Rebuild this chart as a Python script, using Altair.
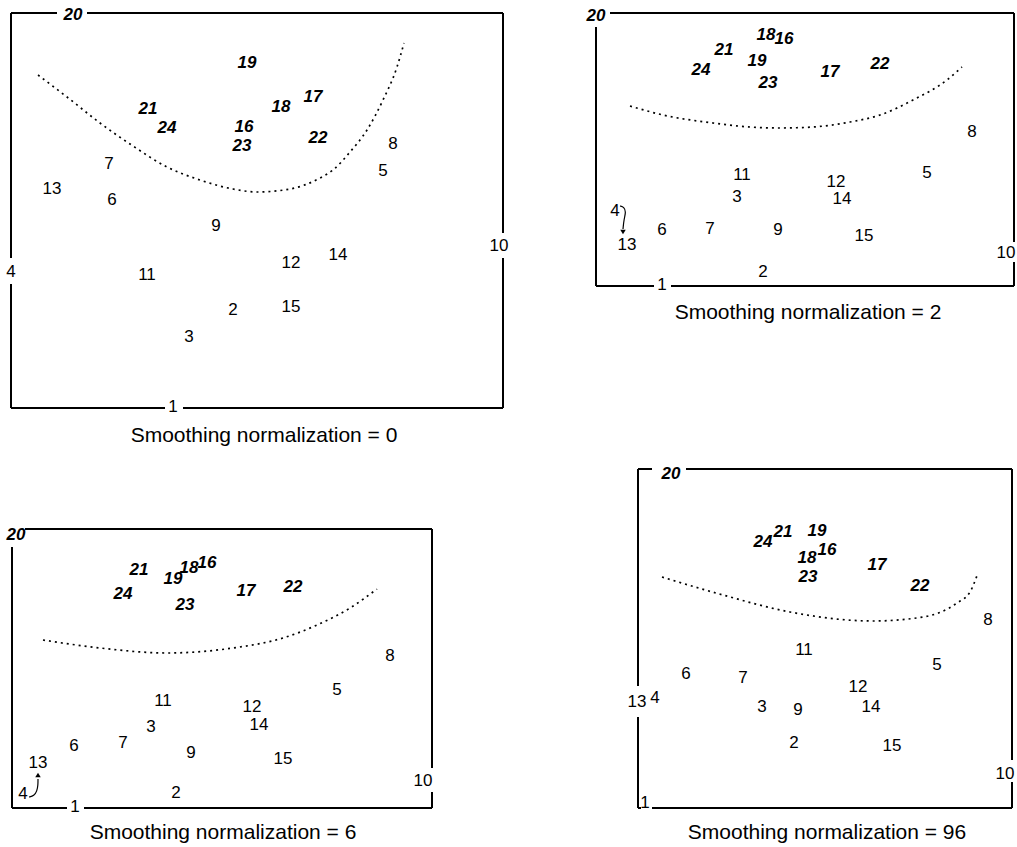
import altair as alt
import pandas as pd

W, H = 1017, 847
FONT = "Liberation Sans"

# ---------- point labels per panel (pixel units) ----------
p0_lab = ["20", "19", "21", "24", "16", "23", "18", "17", "22", "8", "5", "7", "13", "6", "9",
          "10", "14", "12", "4", "11", "2", "15", "3", "1"]
p0_x = [73, 247, 148, 167, 244, 242, 281, 313, 318, 393, 383, 109, 52, 112, 216,
        499, 338, 291, 11, 147, 233, 291, 189, 173]
p0_y = [15, 63, 109, 128, 127, 146, 107, 97, 138, 144, 171, 164, 189, 200, 226,
        246, 255, 263, 272, 275, 310, 307, 337, 407]

p1_lab = ["20", "18", "16", "21", "19", "24", "23", "17", "22", "8", "11", "5", "12", "3", "14",
          "4", "6", "7", "9", "13", "15", "10", "2", "1"]
p1_x = [596, 766, 784, 724, 757, 701, 768, 830, 880, 972, 742, 927, 836, 737, 842,
        615, 662, 710, 778, 627, 864, 1006, 763, 662]
p1_y = [16, 35, 39, 50, 61, 70, 83, 72, 64, 132, 175, 173, 182, 197, 199,
        211, 230, 229, 230, 245, 236, 253, 272, 285]

p2_lab = ["20", "16", "18", "21", "19", "22", "17", "24", "23", "8", "5", "11", "12", "3", "14",
          "6", "7", "9", "15", "13", "10", "4", "2", "1"]
p2_x = [16, 207, 189, 139, 173, 293, 246, 123, 185, 390, 337, 163, 252, 151, 259,
        74, 123, 191, 283, 38, 423, 23, 176, 75]
p2_y = [535, 563, 568, 570, 579, 587, 591, 594, 605, 656, 690, 701, 707, 727, 725,
        746, 743, 753, 759, 763, 781, 794, 793, 807]

p3_lab = ["20", "21", "19", "24", "16", "18", "23", "17", "22", "8", "11", "5", "6", "7", "12",
          "4", "13", "3", "9", "14", "2", "15", "10", "1"]
p3_x = [671, 783, 817, 763, 827, 807, 808, 877, 920, 988, 804, 937, 686, 743, 858,
        655, 637, 762, 798, 871, 794, 892, 1005, 645]
p3_y = [474, 532, 531, 542, 550, 558, 577, 565, 586, 620, 650, 665, 674, 678, 687,
        698, 702, 707, 710, 707, 743, 746, 774, 803]

# ---------- captions ----------
cap_text = ["Smoothing normalization = 0", "Smoothing normalization = 2",
            "Smoothing normalization = 6", "Smoothing normalization = 96"]
cap_x = [264, 808, 223, 827]
cap_y = [436, 313, 833, 833]

# ---------- dotted smoothing curves ----------
c0_x = [38, 67, 100, 133, 167, 200, 233, 257, 290, 320, 333, 350, 367, 383, 397, 404]
c0_y = [75, 97, 123, 146, 167, 180, 189, 192, 189, 178, 170, 152, 130, 100, 67, 43]
c1_x = [630, 663, 713, 750, 780, 813, 850, 880, 913, 947, 962]
c1_y = [106, 115, 123, 127, 128, 127, 122, 115, 100, 80, 67]
c2_x = [43, 100, 167, 233, 283, 317, 350, 377]
c2_y = [640, 648, 653, 648, 638, 625, 608, 589]
c3_x = [662, 723, 790, 873, 923, 957, 970, 978]
c3_y = [577, 595, 612, 621, 617, 603, 592, 573]

# ---------- box border segments (with gaps for labels) ----------
s0 = [(11, 13, 57, 13), (87, 13, 503, 13), (503, 13, 503, 233), (503, 258, 503, 408),
      (11, 408, 165, 408), (183, 408, 503, 408), (11, 13, 11, 258), (11, 284, 11, 408)]
s1 = [(610, 13, 1014, 13), (596, 27, 596, 286), (596, 286, 654, 286), (671, 286, 1014, 286),
      (1014, 13, 1014, 242), (1014, 262, 1014, 286)]
s2 = [(25, 529, 432, 529), (12, 547, 12, 808), (12, 808, 67, 808), (84, 808, 432, 808),
      (432, 529, 432, 768), (432, 792, 432, 808)]
s3 = [(638, 469, 652, 469), (686, 469, 1012, 469), (638, 469, 638, 686), (638, 717, 638, 808),
      (638, 808, 641, 808), (652, 808, 1012, 808), (1012, 469, 1012, 760), (1012, 782, 1012, 808)]

# ---------- small arrows 4 -> 13 ----------
a1_x = [620, 624, 626, 624, 623]
a1_y = [206, 207, 212, 219, 229]
a2_x = [29, 34, 37, 38, 38]
a2_y = [797, 796, 791, 785, 779]
head_x = [623, 38]
head_y = [232, 775]
head_shape = ["triangle-down", "triangle-up"]

# ---------- build tables ----------
rows = []
for labs, xs_, ys_ in [(p0_lab, p0_x, p0_y), (p1_lab, p1_x, p1_y), (p2_lab, p2_x, p2_y), (p3_lab, p3_x, p3_y)]:
    for l, x, y in zip(labs, xs_, ys_):
        rows.append({"lab": l, "x": x, "y": y, "grp": "b" if int(l) >= 16 else "n"})
labels = pd.DataFrame(rows)

curves = pd.DataFrame(
    [{"panel": p, "i": i, "x": x, "y": y}
     for p, (cx, cy) in enumerate([(c0_x, c0_y), (c1_x, c1_y), (c2_x, c2_y), (c3_x, c3_y)])
     for i, (x, y) in enumerate(zip(cx, cy))]
)
segs = pd.DataFrame([{"x": a, "y": b, "x2": c, "y2": d} for s in (s0, s1, s2, s3) for (a, b, c, d) in s])
caps = pd.DataFrame({"t": cap_text, "x": cap_x, "y": cap_y})
arrows = pd.DataFrame(
    [{"a": k, "i": i, "x": x, "y": y}
     for k, (ax, ay) in enumerate([(a1_x, a1_y), (a2_x, a2_y)])
     for i, (x, y) in enumerate(zip(ax, ay))]
)
heads = pd.DataFrame({"x": head_x, "y": head_y, "s": head_shape})

xs = alt.Scale(domain=[0, W], range=[0, W])
ys = alt.Scale(domain=[0, H], range=[0, H])
X = lambda f="x": alt.X(f"{f}:Q", scale=xs, axis=None)
Y = lambda f="y": alt.Y(f"{f}:Q", scale=ys, axis=None)

border = alt.Chart(segs).mark_rule(color="black", strokeWidth=2).encode(
    x=X(), y=Y(), x2="x2:Q", y2="y2:Q")

curve = alt.Chart(curves).mark_line(color="black", strokeWidth=1.7, strokeDash=[2, 4],
                                    interpolate="monotone").encode(
    x=X(), y=Y(), detail="panel:N", order="i:Q")

norm = alt.Chart(labels).transform_filter(alt.datum.grp == "n").mark_text(
    font=FONT, fontSize=17, color="black", align="center", baseline="middle").encode(
    x=X(), y=Y(), text="lab:N")

bold = alt.Chart(labels).transform_filter(alt.datum.grp == "b").mark_text(
    font=FONT, fontSize=17, fontWeight="bold", fontStyle="italic", color="black",
    align="center", baseline="middle").encode(x=X(), y=Y(), text="lab:N")

captions = alt.Chart(caps).mark_text(
    font=FONT, fontSize=21, color="black", align="center", baseline="middle").encode(
    x=X(), y=Y(), text="t:N")

arrow_lines = alt.Chart(arrows).mark_line(color="black", strokeWidth=1.2, interpolate="basis").encode(
    x=X(), y=Y(), detail="a:N", order="i:Q")

arrow_heads = alt.Chart(heads).mark_point(filled=True, color="black", size=30, opacity=1).encode(
    x=X(), y=Y(), shape=alt.Shape("s:N", scale=None))

chart = alt.layer(border, curve, norm, bold, captions, arrow_lines, arrow_heads).properties(
    width=W, height=H, padding=0, autosize="none"
).configure_view(stroke=None)

chart.save("out.html", embed_options={"renderer": "svg", "actions": False})
